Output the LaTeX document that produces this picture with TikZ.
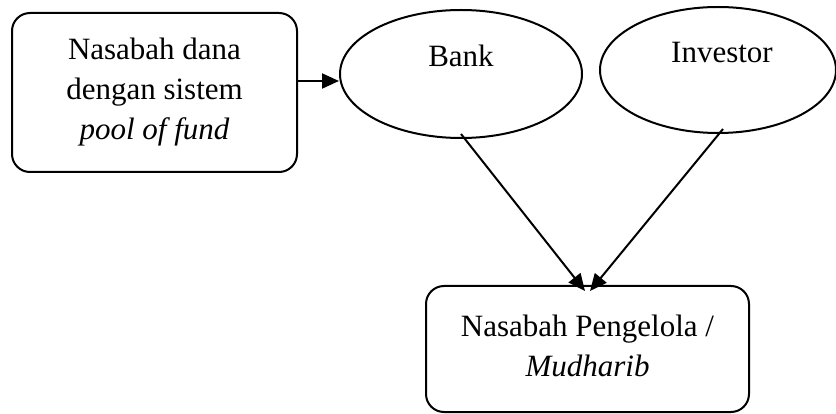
\documentclass[tikz,border=0pt]{standalone}
\usepackage{fontspec}
\setmainfont{Liberation Serif}
\usetikzlibrary{shapes.geometric,arrows.meta}

\begin{document}
\begin{tikzpicture}[x=1pt,y=-1pt,line join=round,
        kotak/.style={draw,line width=2pt,rounded corners=18pt,align=center,inner sep=0pt},
        oval/.style={draw,ellipse,line width=2pt,inner sep=0pt},
        panah/.style={line width=2pt,-{Triangle[length=17pt,width=15pt]}},
        font=\fontsize{31}{40}\selectfont]
        \useasboundingbox (0,0) rectangle (836,414);
        % kotak dan oval
        \node[kotak,minimum width=285pt,minimum height=159pt] (dana) at (154.5,92.5)
            {Nasabah dana\\dengan sistem\\\textit{pool of fund}};
        \node[oval,minimum width=242pt,minimum height=128pt] (bank) at (461,74) {};
        \node[oval,minimum width=236pt,minimum height=126pt] (inv) at (718,70) {};
        \node[anchor=base] (tbank) at (461,67) {Bank};
        \node[anchor=base] (tinv) at (722,63) {Investor};
        \node[kotak,minimum width=323pt,minimum height=126pt] (kelola) at (587.5,349) {};
        \node[align=center] (tkelola) at ([yshift=3.5pt]kelola.center)
            {Nasabah Pengelola /\\\textit{Mudharib}};
        % panah
        \coordinate (p1) at ([yshift=11.5pt]dana.east);
        \draw[panah] (p1) -- (p1 -| bank.west);
        \draw[panah] ([yshift=5pt]bank.south) -- ([xshift=-2.5pt,yshift=-6pt]kelola.north);
        \draw[panah] ([xshift=5pt,yshift=5pt]inv.south) -- ([xshift=2.5pt,yshift=-6pt]kelola.north);
\end{tikzpicture}
\end{document}
